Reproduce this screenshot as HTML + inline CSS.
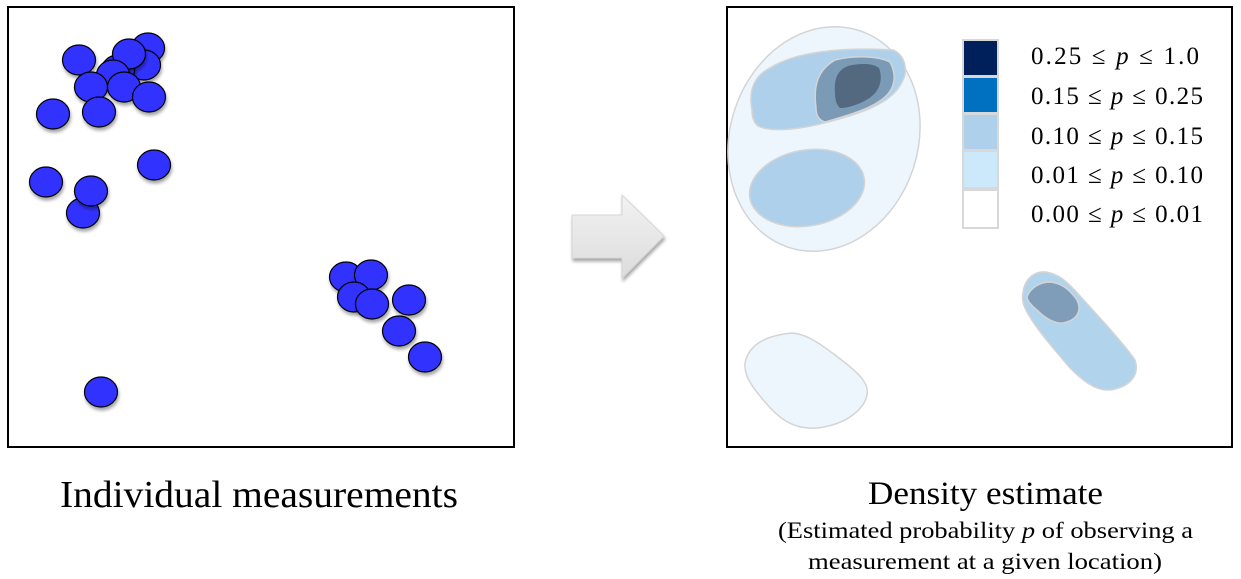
<!DOCTYPE html>
<html><head><meta charset="utf-8"><style>
body{margin:0;background:#fff;}
svg{display:block;font-family:"Liberation Serif",serif;}
</style></head><body>
<svg width="1241" height="579" viewBox="0 0 1241 579">
<defs>
<filter id="sh" x="-30%" y="-30%" width="160%" height="160%"><feDropShadow dx="1" dy="3" stdDeviation="1.5" flood-color="#000" flood-opacity="0.35"/></filter>
<linearGradient id="ag" x1="0" y1="0" x2="0" y2="1"><stop offset="0" stop-color="#f2f2f2"/><stop offset="1" stop-color="#dcdcdc"/></linearGradient>
</defs>
<rect x="8" y="7" width="506" height="440" fill="#fff" stroke="#000" stroke-width="2"/>
<g id="pts"></g>

<g filter="url(#sh)">
<path d="M572,215 L622,215 L622,195 L664,236 L622,278 L622,258 L572,258 Z" fill="url(#ag)" stroke="#d6d6d6" stroke-width="1"/>
</g>

<rect x="727" y="7" width="505" height="440" fill="#fff" stroke="#000" stroke-width="2"/>
<g stroke="#d4d4d4" stroke-width="1.5">
<ellipse cx="824" cy="139" rx="94" ry="114" transform="rotate(18 824 139)" fill="#eef6fd"/>
<path d="M752,110 C748,90 755,75 770,68 C795,52 840,47 893,50 C905,55 908,70 903,80 C895,100 870,112 820,124 C795,130 770,132 758,126 C753,122 752,116 752,110 Z" fill="#aed0ea"/>
<ellipse cx="807" cy="188" rx="58" ry="38" transform="rotate(-10 807 188)" fill="#aed0ea"/>
<path d="M816,108 C813,85 818,70 835,60 C855,55 878,56 890,62 C897,75 895,88 885,97 C870,110 845,116 825,122 C818,120 816,114 816,108 Z" fill="#7b9ab6"/>
<path d="M835,93 C834,80 837,70 848,66 C860,63 873,63 879,68 C883,78 880,90 872,96 C862,104 848,108 840,108 C836,104 835,99 835,93 Z" fill="#53697f" stroke="none"/>
<path d="M745,363 C748,348 760,336 792,333 C805,334 815,340 835,355 C855,370 870,382 867,395 C864,410 845,425 817,428 C790,430 775,415 760,396 C750,384 744,374 745,363 Z" fill="#eef6fd"/>
<path d="M1023,292 C1025,278 1035,271 1046,272 C1058,274 1066,280 1080,296 C1100,318 1125,345 1135,360 C1140,375 1130,387 1110,390 C1095,391 1082,380 1070,368 C1055,350 1035,328 1026,310 C1022,302 1022,297 1023,292 Z" fill="#b2d3ec"/>
<path d="M1027,297 C1030,288 1040,282 1050,282 C1062,283 1070,290 1077,300 C1082,310 1078,320 1063,323 C1055,324 1045,318 1038,311 C1032,306 1027,301 1027,297 Z" fill="#7f9db9"/>
</g>

<g>
<rect x="962" y="39" width="37" height="190" fill="#d8d8d8"/>
<rect x="964" y="41" width="33" height="34" fill="#00205c"/>
<rect x="964" y="78" width="33" height="34" fill="#0070c0"/>
<rect x="964" y="115" width="33" height="34" fill="#aed0ea"/>
<rect x="964" y="152" width="33" height="35" fill="#cce9fb"/>
<rect x="964" y="191" width="33" height="36" fill="#fff"/>
<g font-size="25" fill="#000">
<text x="1031" y="64" textLength="168" lengthAdjust="spacing">0.25 ≤ <tspan font-style="italic">p</tspan> ≤ 1.0</text>
<text x="1031" y="104" textLength="172" lengthAdjust="spacing">0.15 ≤ <tspan font-style="italic">p</tspan> ≤ 0.25</text>
<text x="1031" y="144" textLength="172" lengthAdjust="spacing">0.10 ≤ <tspan font-style="italic">p</tspan> ≤ 0.15</text>
<text x="1031" y="183" textLength="172" lengthAdjust="spacing">0.01 ≤ <tspan font-style="italic">p</tspan> ≤ 0.10</text>
<text x="1031" y="222" textLength="172" lengthAdjust="spacing">0.00 ≤ <tspan font-style="italic">p</tspan> ≤ 0.01</text>
</g>
</g>

<text x="60" y="507" font-size="38" textLength="398" lengthAdjust="spacingAndGlyphs">Individual measurements</text>
<text x="868" y="504" font-size="33" textLength="235" lengthAdjust="spacingAndGlyphs">Density estimate</text>
<text x="778" y="538" font-size="23" textLength="415" lengthAdjust="spacingAndGlyphs">(Estimated probability <tspan font-style="italic">p</tspan> of observing a</text>
<text x="808" y="569" font-size="23" textLength="354" lengthAdjust="spacingAndGlyphs">measurement at a given location)</text>
</svg>
<script>
const ptX=[79,148,144,118,129,113,91,124,149,53,99,154,46,83,91,346,371,354,372,409,399,425,101];
const ptY=[60,48,65,70,54,75,87,87,97,114,112,165,182,213,191,277,275,297,304,300,331,357,392];
const g=document.getElementById('pts');
const NS='http://www.w3.org/2000/svg';
for(let i=0;i<ptX.length;i++){
  const e=document.createElementNS(NS,'ellipse');
  e.setAttribute('cx',ptX[i]);e.setAttribute('cy',ptY[i]);
  e.setAttribute('rx',16.5);e.setAttribute('ry',15);
  e.setAttribute('fill','#3333ff');e.setAttribute('stroke','#000');e.setAttribute('stroke-width','1.2');
  e.setAttribute('filter','url(#sh)');
  
  
  g.appendChild(e);
}
</script>
</body></html>
